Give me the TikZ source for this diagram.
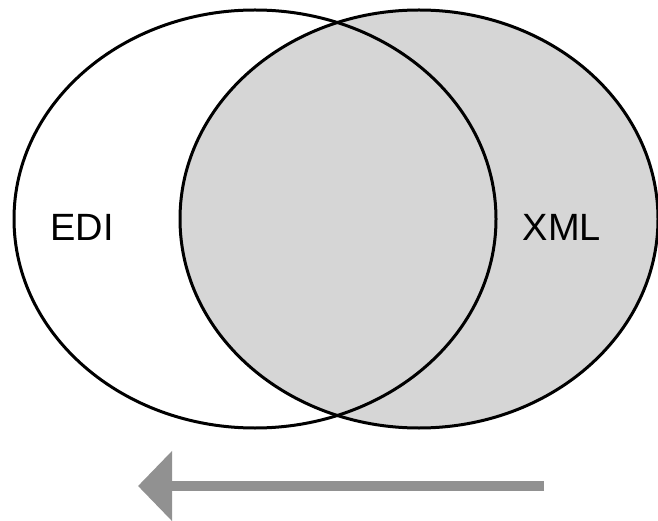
\documentclass[tikz,border=0pt]{standalone}
\usepackage{fontspec}
\setmainfont{Liberation Sans}
\usetikzlibrary{shapes.geometric,arrows.meta}
\definecolor{vennfill}{HTML}{D6D6D6}
\definecolor{arrowgray}{HTML}{919191}
\tikzset{
  venn/.style={ellipse, draw=black, line width=3pt, inner sep=0pt,
    minimum width=482pt, minimum height=418pt},
  lbl/.style={font=\fontsize{38}{40}\selectfont, inner sep=0pt},
  bigarrow/.style={draw=arrowgray, line width=10pt,
    -{Triangle[length=34pt,width=68pt]}}
}
\begin{document}
\begin{tikzpicture}[x=1pt,y=-1pt]
  \useasboundingbox (0,0) rectangle (658,521);
  \node[venn, fill=vennfill, minimum width=478pt] (xmlset) at (419,219) {};
  \node[venn] (ediset) at (255,219) {};
  \node[lbl] (edi) at (82,227) {EDI};
  \node[lbl] (xml) at (562,227) {XML};
  \coordinate (arrstart) at (544,486);
  \coordinate (arrend) at (138,486);
  \draw[bigarrow] (arrstart) -- (arrend);
\end{tikzpicture}
\end{document}
